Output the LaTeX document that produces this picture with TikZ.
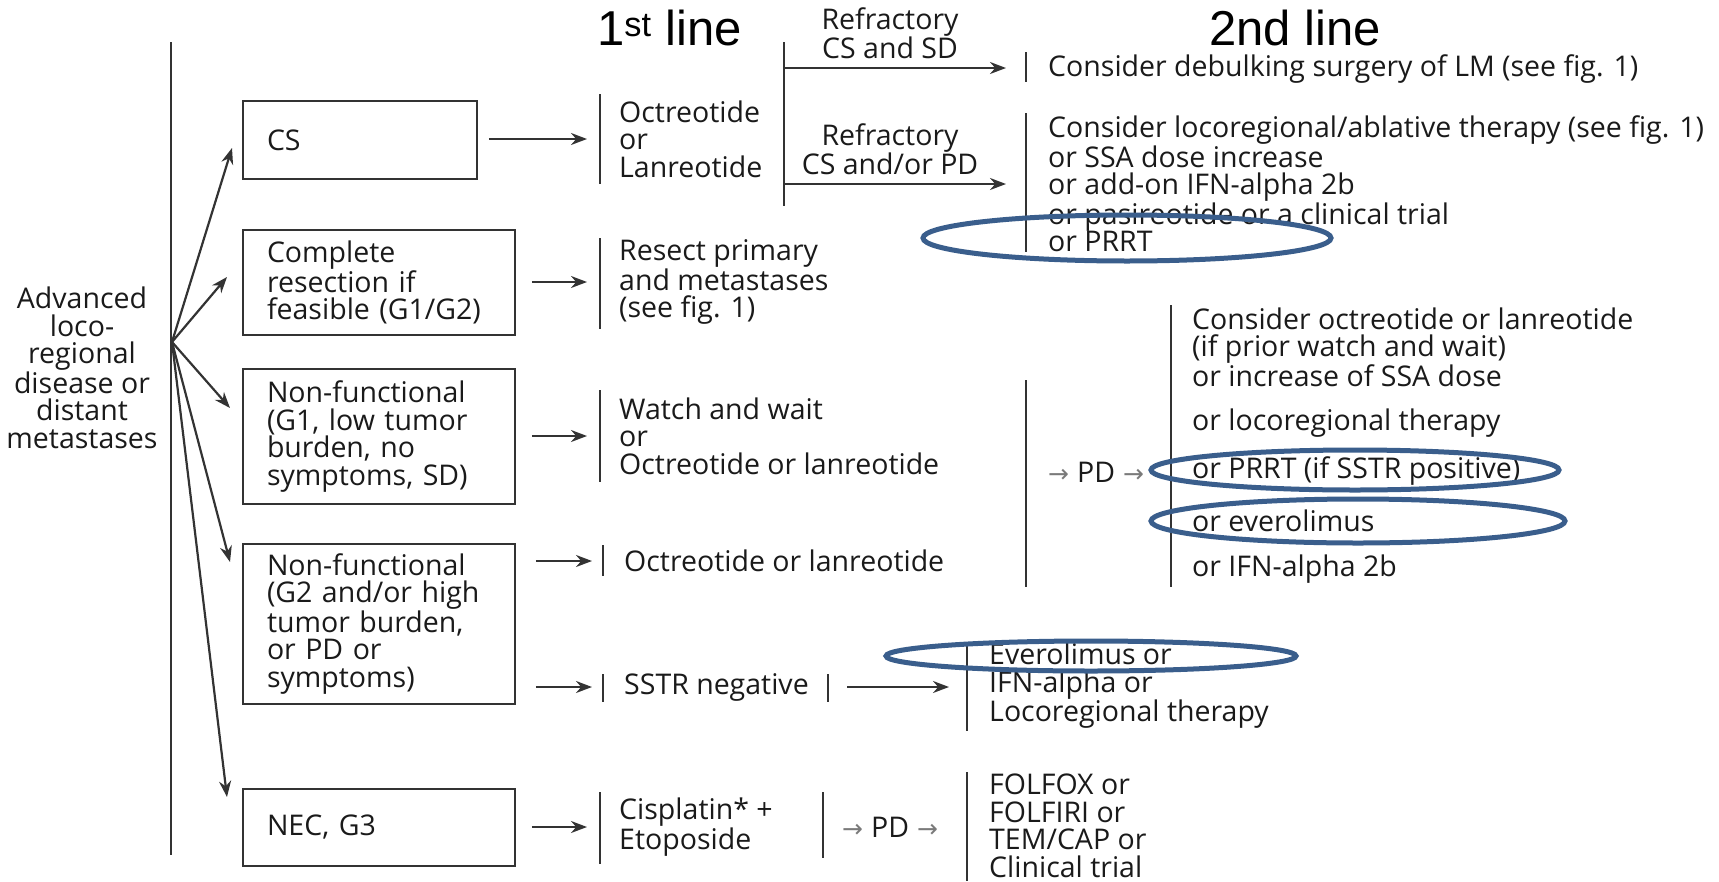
\documentclass[tikz,border=0pt]{standalone}
\usepackage{fontspec}
\setmainfont{Open Sans}
\newfontfamily\headfont{Liberation Sans}
\newfontfamily\symfont{DejaVu Sans}
\usetikzlibrary{arrows.meta,calc}
\definecolor{ink}{HTML}{1A1A1A}
\definecolor{rule}{HTML}{333333}
\definecolor{ring}{HTML}{3A5E8C}
\definecolor{pdarrow}{HTML}{7A7A7A}
\newcommand{\bodyfont}{\fontsize{28.5}{27.5}\selectfont}
\newcommand{\pdto}{{\symfont\color{pdarrow}\fontsize{25}{25}\selectfont →}}
\tikzset{
  box/.style={draw=rule, line width=1.8pt, inner xsep=24pt, inner ysep=0pt, align=left, text=ink, font=\bodyfont},
  txt/.style={inner sep=0pt, anchor=west, align=left, text=ink, font=\bodyfont},
  head/.style={inner sep=0pt, anchor=west, text=black, font={\headfont\fontsize{49}{49}\selectfont}},
  bar/.style={draw=rule, line width=1.8pt},
  arr/.style={draw=rule, line width=2.2pt, -{Stealth[length=16pt,width=12pt]}},
  oval/.style={draw=ring, line width=5pt},
}
\begin{document}
\begin{tikzpicture}[x=1pt,y=-1pt]
\useasboundingbox (0,0) rectangle (1719,881);
%%Headers
\node[head] (head1) at (597,28) {1\textsuperscript{st} line};
\node[head] (head2) at (1209,28) {2nd line};
%%Start
\node[txt, anchor=center, align=center] (start) at (82,368) {Advanced\\loco-\\regional\\disease or\\distant\\metastases};
\draw[bar] (171,42) -- (171,855);
\coordinate (fan) at (172,342);
%%Groups
\node[box, minimum width=234pt, minimum height=78pt, text width=186pt] (cs) at (360,140) {CS};
\node[box, minimum width=272pt, minimum height=105pt, text width=224pt] (cr) at (379,282.5) {Complete\\resection if\\feasible (G1/G2)};
\node[box, minimum width=272pt, minimum height=135pt, text width=224pt] (nf) at (379,436.5) {Non-functional\\(G1, low tumor\\burden, no\\symptoms, SD)};
\node[box, minimum width=272pt, minimum height=160pt, text width=224pt] (nh) at (379,624) {Non-functional\\(G2 and/or high\\tumor burden,\\or PD or\\symptoms)};
\node[box, minimum width=272pt, minimum height=77pt, text width=224pt] (nec) at (379,827.5) {NEC, G3};
\coordinate (tcs) at (232,148);
\coordinate (tcr) at (227,277);
\coordinate (tnf) at (230,408);
\coordinate (tnh) at (230,562);
\coordinate (tnec) at (227,797);
\foreach \t in {tcs,tcr,tnf,tnh,tnec}
  \draw[arr] (fan) -- (\t);
%%1st line
\node[txt] (oct) at (619,139) {Octreotide\\or\\Lanreotide};
\node[txt] (res) at (619,282) {Resect primary\\and metastases\\(see fig. 1)};
\node[txt] (watch) at (619,436) {Watch and wait\\or\\Octreotide or lanreotide};
\node[txt] (octb) at (624,561) {Octreotide or lanreotide};
\node[txt] (sstr) at (624,687) {SSTR negative};
\node[txt] (cis) at (619,827) {Cisplatin* +\\Etoposide};
\draw[bar] (600,94) -- (600,184);
\draw[bar] (600,238) -- (600,329);
\draw[bar] (600,390) -- (600,482);
\draw[bar] (603,545) -- (603,576);
\draw[bar] (603,674) -- (603,702);
\draw[bar] (828,674) -- (828,702);
\draw[bar] (600,792) -- (600,864);
\draw[bar] (823,792) -- (823,858);
\draw[arr] ($(cs.east |- oct.west)+(11,0)$) -- ($(oct.west)+(-32,0)$);
\draw[arr] ($(cr.east |- res.west)+(16,0)$) -- ($(res.west)+(-32,0)$);
\draw[arr] ($(nf.east |- watch.west)+(16,0)$) -- ($(watch.west)+(-32,0)$);
\draw[arr] ($(nh.east |- octb.west)+(20,0)$) -- ($(octb.west)+(-32,0)$);
\draw[arr] ($(nh.east |- sstr.west)+(20,0)$) -- ($(sstr.west)+(-32,0)$);
\draw[arr] ($(nec.east |- cis.west)+(16,0)$) -- ($(cis.west)+(-32,0)$);
%%Refractory
\draw[bar] (784,42) -- (784,206);
\coordinate (jtop) at (784,68);
\coordinate (jbot) at (784,184);
\node[txt, anchor=center, align=center] (rsd) at (890,33) {Refractory\\CS and SD};
\node[txt, anchor=center, align=center] (rpd) at (890,149) {Refractory\\CS and/or PD};
%%2nd line
\node[txt] (debulk) at (1048,69) {Consider debulking surgery of LM (see fig. 1)};
\node[txt] (loco) at (1048,184) {Consider locoregional/ablative therapy (see fig. 1)\\or SSA dose increase\\or add-on IFN-alpha 2b\\or pasireotide or a clinical trial\\or PRRT};
\draw[bar] (1026,52) -- (1026,82);
\draw[bar] (1026,113) -- (1026,252);
\draw[arr] (jtop) -- ($(jtop -| debulk.west)+(-42,0)$);
\draw[arr] (jbot) -- ($(jbot -| loco.west)+(-42,0)$);
%%PD after watch and wait
\draw[bar] (1026,380) -- (1026,587);
\node[txt] (pda) at (1048,472) {\pdto\hspace{8pt}PD\hspace{8pt}\pdto};
\draw[bar] (1171,305) -- (1171,587);
\node[txt] (cons) at (1192,347) {Consider octreotide or lanreotide\\(if prior watch and wait)\\or increase of SSA dose};
\node[txt] (loreg) at (1192,423) {or locoregional therapy};
\node[txt] (prrt) at (1192,471) {or PRRT (if SSTR positive)};
\node[txt] (evr) at (1192,521) {or everolimus};
\node[txt] (ifn) at (1192,569) {or IFN-alpha 2b};
%%SSTR negative
\node[txt] (eve) at (989,686) {Everolimus or\\IFN-alpha or\\Locoregional therapy};
\draw[bar] (967,644) -- (967,731);
\draw[arr] (847,687) -- ($(sstr.west -| eve.west)+(-40,0)$);
%%NEC
\node[txt] (pdb) at (842,827) {\pdto\hspace{8pt}PD\hspace{8pt}\pdto};
\draw[bar] (967,772) -- (967,881);
\node[txt] (fol) at (989,826) {FOLFOX or\\FOLFIRI or\\TEM/CAP or\\Clinical trial};
%%Rings
\draw[oval] (1127,238) ellipse [x radius=204, y radius=23];
\draw[oval] (1355,470) ellipse [x radius=204, y radius=20];
\draw[oval] (1358,521) ellipse [x radius=207, y radius=22];
\draw[oval] (1091,656) ellipse [x radius=205, y radius=15];
\end{tikzpicture}
\end{document}
